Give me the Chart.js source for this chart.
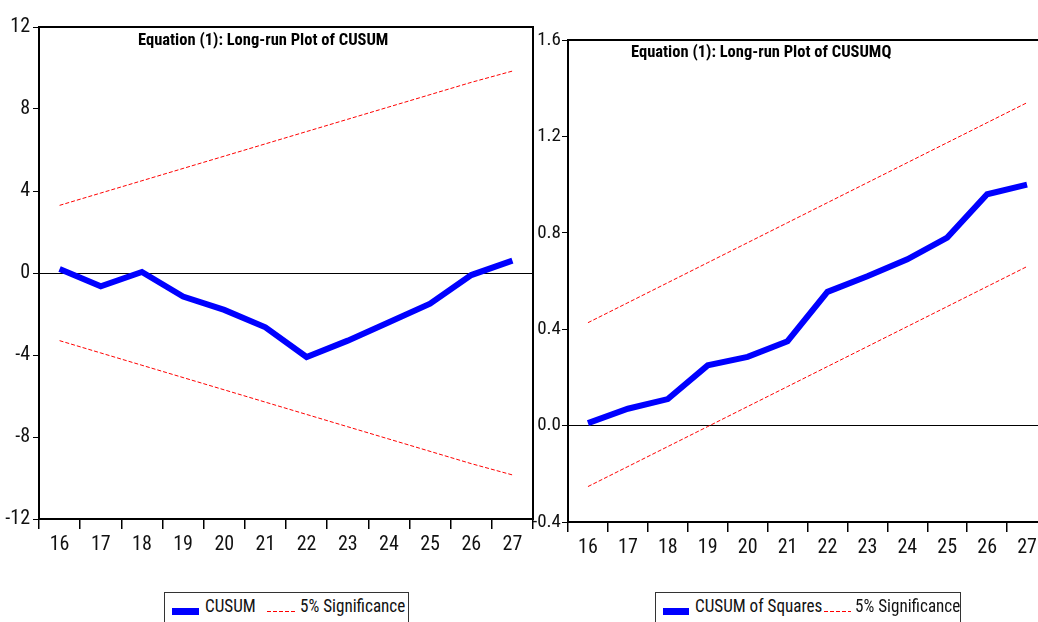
<!DOCTYPE html>
<html>
<head>
<meta charset="utf-8">
<script src="https://cdn.jsdelivr.net/npm/chart.js@4/dist/chart.umd.min.js"></script>
<style>
  html, body { margin: 0; padding: 0; width: 1038px; height: 622px; overflow: hidden; background: #fff; }
  canvas { position: absolute; top: 0; }
  #cusumChart { left: 0; }
  #cusumqChart { left: 500px; }
  .legend {
    position: absolute; top: 592px; height: 40px; box-sizing: border-box;
    border: 1px solid #333; background: #fff;
    font: 19px "Roboto Condensed", "Liberation Sans", Arial, sans-serif; color: #111;
  }
  .legend span { position: absolute; white-space: nowrap; }
  .legend .txt { top: 1px; line-height: 24px; transform: scaleX(0.9); transform-origin: left center; }
  .legend .solid { top: 15px; height: 7px; background: #0000ff; }
  .legend .dash {
    top: 18px; height: 1px;
    background: repeating-linear-gradient(to right, #ff0000 0 4px, transparent 4px 6px);
  }
</style>
</head>
<body>
<canvas id="cusumChart" width="534" height="622"></canvas>
<canvas id="cusumqChart" width="548" height="622"></canvas>

<div class="legend" style="left:164px; width:245px;">
  <span class="solid" style="left:7px; width:27px;"></span>
  <span class="txt" style="left:40px;">CUSUM</span>
  <span class="dash" style="left:102px; width:28px;"></span>
  <span class="txt" style="left:135px;">5% Significance</span>
</div>
<div class="legend" style="left:655px; width:306px;">
  <span class="solid" style="left:7px; width:26px;"></span>
  <span class="txt" style="left:39px;">CUSUM of Squares</span>
  <span class="dash" style="left:168px; width:27px;"></span>
  <span class="txt" style="left:199px;">5% Significance</span>
</div>

<script>
const periods = ["16", "17", "18", "19", "20", "21", "22", "23", "24", "25", "26", "27"];

// CUSUM panel
const cusum = [0.2, -0.65, 0.05, -1.15, -1.8, -2.65, -4.1, -3.3, -2.4, -1.5, -0.1, 0.6];
const cusumUpper = [3.3, 3.9, 4.5, 5.1, 5.7, 6.3, 6.9, 7.5, 8.1, 8.7, 9.3, 9.85];
const cusumLower = [-3.3, -3.9, -4.5, -5.1, -5.7, -6.3, -6.9, -7.5, -8.1, -8.7, -9.3, -9.85];
const cusumTicks = [-12, -8, -4, 0, 4, 8, 12];

// CUSUM of squares panel
const cusumSq = [0.01, 0.07, 0.11, 0.25, 0.285, 0.35, 0.555, 0.62, 0.69, 0.78, 0.96, 1.0];
const cusumSqUpper = [0.427, 0.51, 0.593, 0.676, 0.759, 0.842, 0.925, 1.008, 1.091, 1.174, 1.257, 1.34];
const cusumSqLower = [-0.253, -0.17, -0.087, -0.004, 0.079, 0.162, 0.245, 0.328, 0.411, 0.494, 0.577, 0.66];
const cusumSqTicks = [-0.4, 0.0, 0.4, 0.8, 1.2, 1.6];

const FONT = "'Roboto Condensed', 'Liberation Sans', Arial, sans-serif";

// box around the plot area (EViews style frame)
const framePlugin = {
  id: "frame",
  afterDatasetsDraw(chart) {
    const { ctx, chartArea: a } = chart;
    ctx.save();
    ctx.strokeStyle = "#000";
    ctx.lineWidth = 2;
    ctx.strokeRect(a.left, a.top, a.right - a.left, a.bottom - a.top);
    ctx.restore();
  },
};

// title drawn inside the plot area
const innerTitlePlugin = {
  id: "innerTitle",
  afterDraw(chart, args, opts) {
    const { ctx, chartArea: a } = chart;
    ctx.save();
    ctx.font = "bold 16.5px " + FONT;
    ctx.fillStyle = "#000";
    ctx.textBaseline = "middle";
    ctx.fillText(opts.text, a.left + opts.dx, a.top + opts.dy);
    ctx.restore();
  },
};

function makeChart(canvasId, cfg) {
  const ctx = document.getElementById(canvasId).getContext("2d");
  return new Chart(ctx, {
    type: "line",
    data: {
      labels: periods,
      datasets: [
        {
          label: cfg.mainLabel,
          data: cfg.main,
          borderColor: "#0000ff",
          borderWidth: 6,
          pointRadius: 0,
          tension: 0,
          order: 0,
        },
        {
          label: "5% Significance",
          data: cfg.upper,
          borderColor: "#ff0000",
          borderWidth: 1,
          borderDash: [4, 2],
          pointRadius: 0,
          order: 1,
        },
        {
          label: "5% Significance (lower)",
          data: cfg.lower,
          borderColor: "#ff0000",
          borderWidth: 1,
          borderDash: [4, 2],
          pointRadius: 0,
          order: 1,
        },
      ],
    },
    options: {
      responsive: false,
      animation: false,
      devicePixelRatio: 1,
      layout: { padding: cfg.padding },
      plugins: {
        legend: { display: false },
        tooltip: { enabled: false },
        innerTitle: { text: cfg.title, dx: cfg.titleDx, dy: cfg.titleDy },
      },
      scales: {
        x: {
          offset: true,
          grid: {
            offset: true,
            drawOnChartArea: false,
            color: "#000",
            tickColor: "#000",
            tickLength: 10,
            lineWidth: 1.5,
          },
          border: { display: true, color: "#000", width: 2 },
          ticks: {
            color: "#111",
            padding: 4,
            maxRotation: 0,
            autoSkip: false,
            font: { family: FONT, size: 20 },
          },
          afterFit(scale) { scale.height = 50; },
        },
        y: {
          min: cfg.ticks[0],
          max: cfg.ticks[cfg.ticks.length - 1],
          afterBuildTicks(scale) {
            scale.ticks = cfg.ticks.map((v) => ({ value: v }));
          },
          grid: {
            color: (c) => (c.tick && Math.abs(c.tick.value) < 1e-9 ? "#000" : "transparent"),
            tickColor: "#000",
            tickLength: 6,
            lineWidth: 1,
          },
          border: { display: true, color: "#000", width: 2 },
          ticks: {
            color: "#111",
            padding: cfg.yPad,
            font: { family: FONT, size: cfg.yFont },
            callback: cfg.tickFormat,
          },
          afterFit(scale) { scale.width = cfg.yWidth; },
        },
      },
    },
    plugins: [framePlugin, innerTitlePlugin],
  });
}

makeChart("cusumChart", {
  mainLabel: "CUSUM",
  main: cusum,
  upper: cusumUpper,
  lower: cusumLower,
  ticks: cusumTicks,
  tickFormat: (v) => String(v),
  title: "Equation (1): Long-run Plot of CUSUM",
  titleDx: 99,
  titleDy: 14,
  yWidth: 39,
  yPad: 3,
  yFont: 20,
  padding: { top: 27, left: 0, right: 1, bottom: 53 },
});

makeChart("cusumqChart", {
  mainLabel: "CUSUM of Squares",
  main: cusumSq,
  upper: cusumSqUpper,
  lower: cusumSqLower,
  ticks: cusumSqTicks,
  tickFormat: (v) => Number(v).toFixed(1),
  title: "Equation (1): Long-run Plot of CUSUMQ",
  titleDx: 63,
  titleDy: 13,
  yWidth: 68,
  yPad: 1,
  yFont: 19,
  padding: { top: 40, left: 0, right: 1, bottom: 50 },
});
</script>
</body>
</html>
